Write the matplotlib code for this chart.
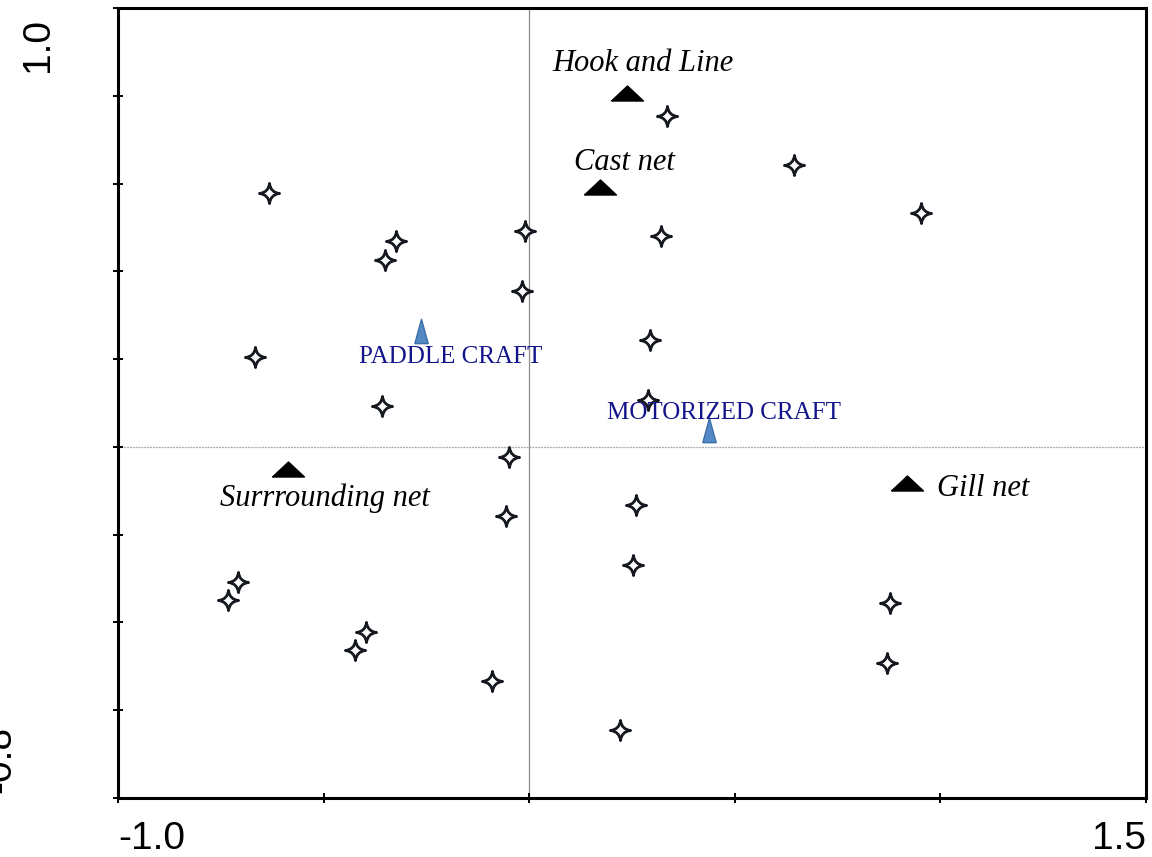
import numpy as np
import matplotlib
matplotlib.use("Agg")
import matplotlib.pyplot as plt
from matplotlib.path import Path

# site scores (stars)
site_x = [0.335, 0.644, 0.953, -0.633, -0.324, -0.351, -0.010, 0.321, -0.018, 0.294,
          -0.667, -0.358, 0.289, -0.049, -0.056, 0.260, 0.252, -0.708, -0.733, -0.397,
          -0.424, -0.090, 0.221, 0.877, 0.870]
site_y = [0.754, 0.642, 0.533, 0.579, 0.469, 0.426, 0.492, 0.481, 0.355, 0.244,
          0.205, 0.093, 0.107, -0.023, -0.157, -0.132, -0.269, -0.308, -0.349, -0.421,
          -0.462, -0.533, -0.645, -0.355, -0.492]

# gear types (black triangles)
gear_names = ["Hook and Line", "Cast net", "Surrrounding net", "Gill net"]
gear_x = [0.238, 0.172, -0.587, 0.919]
gear_y = [0.806, 0.592, -0.050, -0.082]

# craft types (blue triangles)
craft_names = ["PADDLE CRAFT", "MOTORIZED CRAFT"]
craft_x = [-0.263, 0.437]
craft_y = [0.264, 0.039]

# label offsets in pixels (dx, dy)
gear_off = [(16, 30), (25, 25), (37, -29), (76, -6)]
craft_off = [(30, -26), (15, 17)]

# marker shapes
c = 0.1
star = Path([(0, 1), (c, c), (1, 0), (c, -c), (0, -1), (-c, -c), (-1, 0), (-c, c), (0, 1), (0, 1)],
            [Path.MOVETO, Path.CURVE3, Path.CURVE3, Path.CURVE3, Path.CURVE3,
             Path.CURVE3, Path.CURVE3, Path.CURVE3, Path.CURVE3, Path.CLOSEPOLY])
flat_tri = Path([(-1, -0.47), (1, -0.47), (0, 0.47), (-1, -0.47)])
tall_tri = Path([(-0.55, -1), (0.55, -1), (0, 1), (-0.55, -1)])

fig = plt.figure(figsize=(11.52, 8.57), dpi=100)
ax = fig.add_axes([118 / 1152, 1 - 798 / 857, (1146 - 118) / 1152, (798 - 8) / 857])

ax.axvline(0, color="#8c8c8c", lw=0.9, zorder=1)
ax.axhline(0, color="#a8a8a8", lw=0.9, ls=(0, (1.5, 0.8)), zorder=1)

ax.plot(site_x, site_y, ls="none", marker=star, markersize=14.5, markerfacecolor="white",
        markeredgecolor="#15181f", markeredgewidth=2.0, zorder=3)
ax.plot(gear_x, gear_y, ls="none", marker=flat_tri, markersize=23, color="black", zorder=3)
ax.plot(craft_x, craft_y, ls="none", marker=tall_tri, markersize=17.5, markerfacecolor="#5389c4",
        markeredgecolor="#3b6ea8", markeredgewidth=1.0, zorder=3)

for name, x, y, off in zip(gear_names, gear_x, gear_y, gear_off):
    ax.annotate(name, (x, y), xytext=off, textcoords="offset pixels", ha="center", va="center",
                fontsize=22, fontstyle="italic", family="Liberation Serif", color="black", zorder=4)
for name, x, y, off in zip(craft_names, craft_x, craft_y, craft_off):
    ax.annotate(name, (x, y), xytext=off, textcoords="offset pixels", ha="center", va="center",
                fontsize=18, family="Liberation Serif", color="#14148a", zorder=4)

ax.set_xlim(-1.0, 1.5)
ax.set_ylim(-0.8, 1.0)
ax.set_xticks([-1.0, -0.5, 0.0, 0.5, 1.0, 1.5])
ax.set_xticklabels(["-1.0", "", "", "", "", "1.5"], fontsize=28, family="Liberation Sans")
xl = ax.get_xticklabels()
xl[0].set_ha("left")
xl[-1].set_ha("right")
ax.set_yticks(np.arange(-0.8, 1.01, 0.2))
ax.set_yticklabels([])
ax.tick_params(direction="inout", length=7, width=1.4, pad=13)

for s in ax.spines.values():
    s.set_linewidth(2.2)
    s.set_color("black")

fig.text(38 / 1152, 1 - 45 / 857, "1.0", rotation=90, ha="center", va="center",
         fontsize=28, family="Liberation Sans")
fig.text(0 / 1152, 1 - 759 / 857, "-0.8", rotation=90, ha="center", va="center",
         fontsize=28, family="Liberation Sans")

fig.savefig("out.png", dpi=100)
